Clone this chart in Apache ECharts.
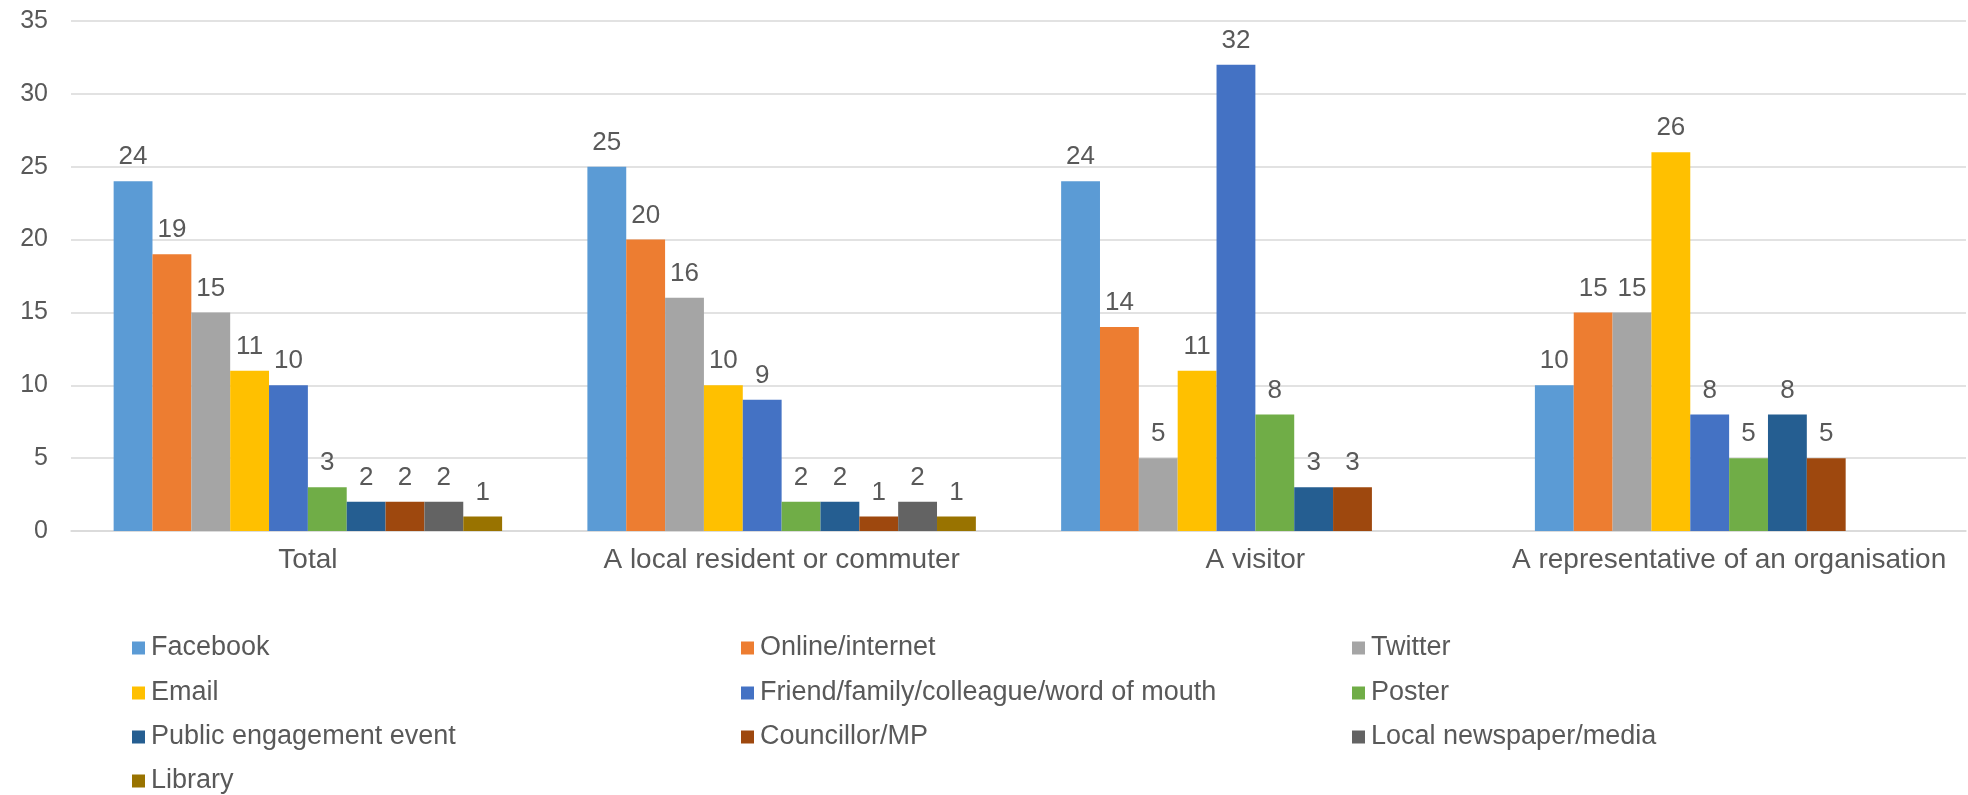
<!DOCTYPE html>
<html>
<head>
<meta charset="utf-8">
<script src="https://cdn.jsdelivr.net/npm/echarts@6/dist/echarts.min.js"></script>
<style>
html,body{margin:0;padding:0;background:#fff;}
#chart{width:1968px;height:795px;}
</style>
</head>
<body>
<div id="chart"></div>
<script>
const categories = ['Total', 'A local resident or commuter', 'A visitor', 'A representative of an organisation'];
const seriesNames = ['Facebook', 'Online/internet', 'Twitter', 'Email', 'Friend/family/colleague/word of mouth', 'Poster', 'Public engagement event', 'Councillor/MP', 'Local newspaper/media', 'Library'];
const colors = ['#5B9BD5', '#ED7D31', '#A5A5A5', '#FFC000', '#4472C4', '#70AD47', '#255E91', '#9E480E', '#636363', '#997300'];
const facebook = [24, 25, 24, 10];
const onlineInternet = [19, 20, 14, 15];
const twitter = [15, 16, 5, 15];
const email = [11, 10, 11, 26];
const friendFamily = [10, 9, 32, 8];
const poster = [3, 2, 8, 5];
const publicEngagement = [2, 2, 3, 8];
const councillorMP = [2, 1, 3, 5];
const localNewspaper = [2, 2, null, null];
const library = [1, 1, null, null];
const yTicks = {min: 0, max: 35, interval: 5};

const values = [facebook, onlineInternet, twitter, email, friendFamily, poster, publicEngagement, councillorMP, localNewspaper, library];
const textColor = '#595959';
const font = 'Liberation Sans, Arial, sans-serif';

const chart = echarts.init(document.getElementById('chart'), null, {renderer: 'canvas'});

// legend laid out in 3 columns, row-major like the reference
const legendCols = [132, 741, 1352];
const legendRows = [648, 693, 737, 781];
const legends = seriesNames.map((name, i) => ({
  orient: 'horizontal',
  icon: 'rect',
  itemWidth: 13,
  itemHeight: 13,
  left: legendCols[i % 3],
  top: legendRows[Math.floor(i / 3)] - 14,
  padding: 0,
  data: [name],
  textStyle: {color: textColor, fontSize: 27, fontFamily: font, lineHeight: 28, padding: [0, 0, 0, 1]}
}));

const option = {
  animation: false,
  color: colors,
  grid: {left: 71, right: 2, top: 21, bottom: 264, containLabel: false},
  legend: legends,
  xAxis: {
    type: 'category',
    data: categories,
    axisTick: {show: false},
    axisLine: {lineStyle: {color: '#D9D9D9', width: 1.5}},
    axisLabel: {color: textColor, fontSize: 28, fontFamily: font, margin: 15, interval: 0}
  },
  yAxis: {
    type: 'value',
    min: yTicks.min,
    max: yTicks.max,
    interval: yTicks.interval,
    axisLine: {show: false},
    axisTick: {show: false},
    splitLine: {lineStyle: {color: '#D9D9D9', width: 1.5}},
    axisLabel: {color: textColor, fontSize: 25, fontFamily: font, margin: 23}
  },
  series: seriesNames.map((name, i) => ({
    name: name,
    type: 'bar',
    data: values[i].map(v => v === null ? '-' : v),
    barGap: '0%',
    barCategoryGap: '18%',
    itemStyle: {color: colors[i]},
    label: {
      show: true,
      position: 'top',
      distance: 11,
      color: textColor,
      fontSize: 26,
      fontFamily: font
    }
  }))
};
chart.setOption(option);
</script>
</body>
</html>
